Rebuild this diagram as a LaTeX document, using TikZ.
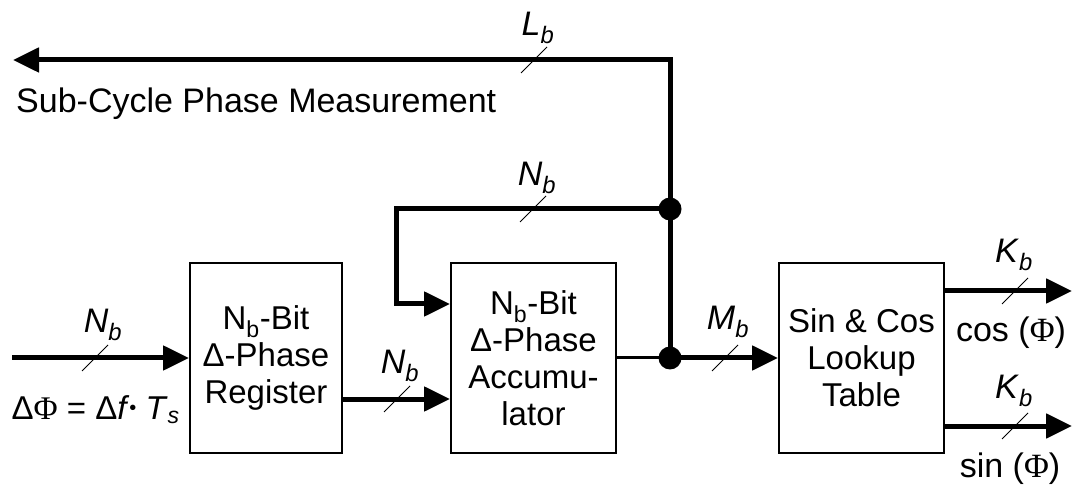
\documentclass[tikz,border=0pt]{standalone}
\usepackage{fontspec}
\setmainfont{Liberation Sans}
\newfontfamily\phifont{Liberation Serif}
\usetikzlibrary{arrows.meta}
\newcommand{\fs}{\fontsize{34}{38}\selectfont}
\newcommand{\fb}{\fontsize{33}{37}\selectfont}
\begin{document}
\begin{tikzpicture}[x=1pt,y=-1pt,
  font=\fs,
  >={Triangle[length=26pt,width=24pt]},
  wire/.style={line width=5pt},
  thinwire/.style={line width=3pt},
  box/.style={draw,line width=2pt,minimum height=190pt,align=center,inner sep=0pt,font=\fb},
  dot/.style={circle,fill,inner sep=0pt,minimum size=23pt},
  lab/.style={inner sep=0pt},
  bus/.pic={\draw[line width=1pt] (-13,13) -- (13,-13);}
]
\useasboundingbox (0,0) rectangle (1074,486);

% blocks
\node[box,minimum width=152pt] (reg) at (266,358) {N\textsubscript{b}-Bit\\Δ-Phase\\Register};
\node[box,minimum width=165pt] (acc) at (533.5,358) {N\textsubscript{b}-Bit\\Δ-Phase\\Accumu-\\lator};
\node[box,minimum width=165pt] (lut) at (861.5,358) {Sin \& Cos\\Lookup\\Table};

% junctions
\node[dot] (j1) at (670,209) {};
\node[dot] (j2) at (670,358) {};

% coordinates
\coordinate (in) at (12,358);
\coordinate (corner) at (670,60);
\coordinate (tl) at (13,60);
\coordinate (fb1) at (396,209);
\coordinate (fb2) at (396,304);
\coordinate (co) at (1072,291);
\coordinate (so) at (1072,426);

% connectors
\draw[wire,->] (in) -- (reg.west);
\draw[wire,->] ([yshift=-41pt]reg.east) -- ([yshift=-41pt]acc.west);
\draw[thinwire] (acc.east) -- (j2.center);
\draw[wire,->] (j2.center) -- (lut.west);
\draw[wire,->] (j2.center) -- (corner) -- (tl);
\draw[wire,->] (j1.center) -- (fb1) -- (fb2) -- (fb2 -| acc.west);
\draw[wire,->] ([yshift=67pt]lut.east) -- (co);
\draw[wire,->] ([yshift=-68pt]lut.east) -- (so);

% bus slashes
\pic at (534,60) {bus};
\pic at (533,209) {bus};
\pic at (95,358) {bus};
\pic at (397,399) {bus};
\pic at (725,358) {bus};
\pic at (1015,291) {bus};
\pic at (1015,426) {bus};

% labels
\node[lab] (lL) at (538,28) {\textit{L}\textsubscript{\textit{b}}};
\node[lab] (lN1) at (537,178) {\textit{N}\textsubscript{\textit{b}}};
\node[lab] (lN2) at (103,325) {\textit{N}\textsubscript{\textit{b}}};
\node[lab] (lN3) at (400,366) {\textit{N}\textsubscript{\textit{b}}};
\node[lab] (lM) at (728,322) {\textit{M}\textsubscript{\textit{b}}};
\node[lab] (lK1) at (1014,255) {\textit{K}\textsubscript{\textit{b}}};
\node[lab] (lK2) at (1014,391) {\textit{K}\textsubscript{\textit{b}}};
\node[lab] (cos) at (1011,333) {cos ({\phifont Φ})};
\node[lab] (sin) at (1010,469) {sin ({\phifont Φ})};
\node[lab,anchor=base west] (sub) at (16,113) {Sub-Cycle Phase Measurement};
\node[lab,anchor=east,font=\fb] (eq) at (180,410) {Δ{\phifont Φ} = Δ\textit{f}\raisebox{5pt}{\fontsize{20}{20}\selectfont•} \textit{T}\textsubscript{\textit{s}}};
\end{tikzpicture}
\end{document}
